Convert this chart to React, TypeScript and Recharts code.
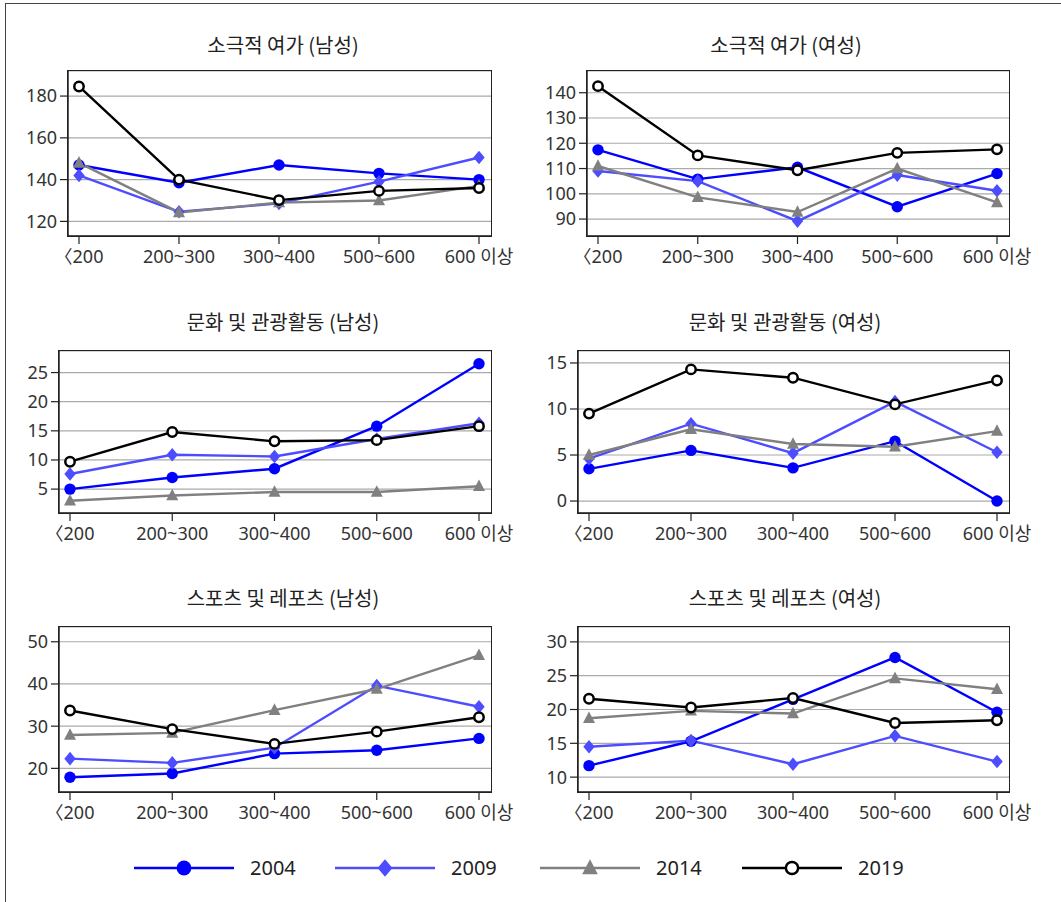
import { LineChart, Line, XAxis, YAxis, CartesianGrid } from 'recharts';

const incomeGroups = ['〈200', '200~300', '300~400', '500~600', '600 이상'];
const years = ['2004', '2009', '2014', '2019'];

// rows follow `years`, columns follow `incomeGroups`
const passiveMale = [
  [147, 138.5, 147, 143, 140],
  [142, 124.6, 128.6, 139, 150.6],
  [148, 124.3, 129, 130, 137],
  [184.6, 140, 130.2, 134.6, 136],
];
const passiveFemale = [
  [117.4, 105.8, 110.5, 94.9, 108],
  [109, 105, 89.2, 107.4, 101.2],
  [111, 98.6, 92.8, 110, 96.6],
  [142.6, 115.2, 109.3, 116.2, 117.6],
];
const cultureMale = [
  [5, 7, 8.5, 15.8, 26.5],
  [7.6, 10.9, 10.6, 13.6, 16.3],
  [3, 3.9, 4.5, 4.5, 5.5],
  [9.7, 14.8, 13.2, 13.4, 15.8],
];
const cultureFemale = [
  [3.5, 5.5, 3.6, 6.5, 0],
  [4.6, 8.4, 5.2, 10.8, 5.3],
  [5, 7.8, 6.2, 5.9, 7.6],
  [9.5, 14.3, 13.4, 10.5, 13.1],
];
const sportsMale = [
  [17.9, 18.8, 23.5, 24.3, 27.1],
  [22.3, 21.3, 24.9, 39.6, 34.6],
  [27.9, 28.4, 33.8, 38.8, 46.8],
  [33.7, 29.3, 25.8, 28.7, 32.1],
];
const sportsFemale = [
  [11.7, 15.3, 21.5, 27.7, 19.6],
  [14.5, 15.4, 11.9, 16.1, 12.3],
  [18.7, 19.8, 19.4, 24.6, 23],
  [21.6, 20.3, 21.7, 18, 18.4],
];

const seriesStyles = [
  { color: '#0000ff', shape: 'circle' },
  { color: '#4d4dff', shape: 'diamond' },
  { color: '#808080', shape: 'triangle' },
  { color: '#000000', shape: 'ring' },
];

const tickFont = "'Noto Sans', 'Noto Sans CJK KR', sans-serif";
const borderColor = '#222';

const panels = [
  { title: '소극적 여가 (남성)', values: passiveMale, domain: [113, 192], ticks: [120, 140, 160, 180], left: 0, width: 530, top: 60, plotTop: 71, plotBottom: 236, plotLeft: 68, plotRight: 491, titleX: 283, titleY: 45 },
  { title: '소극적 여가 (여성)', values: passiveFemale, domain: [83.3, 148.6], ticks: [90, 100, 110, 120, 130, 140], left: 530, width: 531, top: 60, plotTop: 71, plotBottom: 236, plotLeft: 587, plotRight: 1009, titleX: 786, titleY: 45 },
  { title: '문화 및 관광활동 (남성)', values: cultureMale, domain: [0.9, 28.7], ticks: [5, 10, 15, 20, 25], left: 0, width: 530, top: 340, plotTop: 351, plotBottom: 513, plotLeft: 59, plotRight: 491, titleX: 283, titleY: 322 },
  { title: '문화 및 관광활동 (여성)', values: cultureFemale, domain: [-1.3, 16.3], ticks: [0, 5, 10, 15], left: 530, width: 531, top: 340, plotTop: 351, plotBottom: 513, plotLeft: 578, plotRight: 1009, titleX: 785, titleY: 322 },
  { title: '스포츠 및 레포츠 (남성)', values: sportsMale, domain: [14.4, 53.5], ticks: [20, 30, 40, 50], left: 0, width: 530, top: 616, plotTop: 627, plotBottom: 792, plotLeft: 59, plotRight: 491, titleX: 283, titleY: 598 },
  { title: '스포츠 및 레포츠 (여성)', values: sportsFemale, domain: [7.8, 32.2], ticks: [10, 15, 20, 25, 30], left: 530, width: 531, top: 616, plotTop: 627, plotBottom: 792, plotLeft: 578, plotRight: 1009, titleX: 785, titleY: 598 },
];

function Marker({ cx, cy, shape, color, scale = 1 }: { cx?: number; cy?: number; shape: string; color: string; scale?: number }) {
  if (cx == null || cy == null) return null;
  if (shape === 'circle') return <circle cx={cx} cy={cy} r={5.7 * scale} fill={color} />;
  if (shape === 'ring') return <circle cx={cx} cy={cy} r={4.7 * scale} fill="#fff" stroke={color} strokeWidth={2.5} />;
  if (shape === 'diamond') {
    const w = 5.7 * scale, h = 6.8 * scale;
    return <polygon points={`${cx},${cy - h} ${cx + w},${cy} ${cx},${cy + h} ${cx - w},${cy}`} fill={color} />;
  }
  const w = 6 * scale, h = 6.8 * scale;
  return <polygon points={`${cx},${cy - h} ${cx + w},${cy + h * 0.7} ${cx - w},${cy + h * 0.7}`} fill={color} />;
}

function Panel({ p }: { p: (typeof panels)[number] }) {
  const rows = incomeGroups.map((group, i) => {
    const row: Record<string, string | number> = { group };
    years.forEach((y, s) => (row[y] = p.values[s][i]));
    return row;
  });
  const xAxisHeight = 34;
  const height = p.plotBottom - p.top + xAxisHeight + 4;
  const tickStyle = { fontSize: 18, fill: '#333', fontFamily: tickFont };

  return (
    <div style={{ position: 'absolute', left: p.left, top: p.top }}>
      <LineChart
        width={p.width}
        height={height}
        data={rows}
        margin={{ top: p.plotTop - p.top, right: p.left + p.width - p.plotRight, bottom: 4, left: 0 }}
      >
        <CartesianGrid vertical={false} stroke="#aaa" strokeWidth={1.2} />
        <XAxis
          dataKey="group"
          interval={0}
          height={xAxisHeight}
          padding={{ left: 11, right: 12 }}
          tickSize={8}
          tickMargin={6}
          tick={tickStyle}
          axisLine={{ stroke: borderColor, strokeWidth: 1.5 }}
          tickLine={{ stroke: borderColor, strokeWidth: 1.2 }}
        />
        <YAxis
          type="number"
          domain={p.domain}
          ticks={p.ticks}
          interval={0}
          allowDataOverflow
          width={p.plotLeft - p.left}
          tickSize={8}
          tickMargin={3}
          tick={tickStyle}
          axisLine={{ stroke: borderColor, strokeWidth: 1.5 }}
          tickLine={{ stroke: borderColor, strokeWidth: 1.2 }}
        />
        {years.map((y, s) => {
          const st = seriesStyles[s];
          return (
            <Line
              key={y}
              dataKey={y}
              stroke={st.color}
              strokeWidth={2.4}
              isAnimationActive={false}
              activeDot={false}
              dot={(d: any) => <Marker key={`${y}-${d.index}`} cx={d.cx} cy={d.cy} shape={st.shape} color={st.color} />}
            />
          );
        })}
      </LineChart>
      {/* frame around the plotting area */}
      <div
        style={{
          position: 'absolute',
          boxSizing: 'border-box',
          left: p.plotLeft - p.left - 0.75,
          top: p.plotTop - p.top - 0.75,
          width: p.plotRight - p.plotLeft + 1.5,
          height: p.plotBottom - p.plotTop + 1.5,
          border: `1.5px solid ${borderColor}`,
          pointerEvents: 'none',
        }}
      />
      <div
        style={{
          position: 'absolute',
          left: p.titleX - p.left - 200,
          top: p.titleY - p.top - 14,
          width: 400,
          lineHeight: '28px',
          textAlign: 'center',
          fontSize: 20,
          color: '#222',
          fontFamily: "'Noto Sans CJK KR', sans-serif",
        }}
      >
        {p.title}
      </div>
    </div>
  );
}

const legendStarts = [134, 335, 540, 742];

function SharedLegend() {
  return (
    <svg width={1061} height={40} style={{ position: 'absolute', left: 0, top: 848 }}>
      {years.map((y, s) => {
        const st = seriesStyles[s];
        const x0 = legendStarts[s];
        return (
          <g key={y}>
            <line x1={x0} x2={x0 + 100} y1={20} y2={20} stroke={st.color} strokeWidth={2.6} />
            <Marker cx={x0 + 50} cy={20} shape={st.shape} color={st.color} scale={1.3} />
            <text x={x0 + 116} y={27} fontSize={20} fill="#222" fontFamily={tickFont}>
              {y}
            </text>
          </g>
        );
      })}
    </svg>
  );
}

export default function App() {
  return (
    <div style={{ position: 'fixed', left: 0, top: 0, width: 1061, height: 902, overflow: 'hidden', background: '#fff' }}>
      <div style={{ position: 'absolute', left: 5, top: 3, width: 1100, height: 1000, borderTop: '1.5px solid #444', borderLeft: '1.5px solid #444' }} />
      {panels.map(p => (
        <Panel key={p.title} p={p} />
      ))}
      <SharedLegend />
    </div>
  );
}
